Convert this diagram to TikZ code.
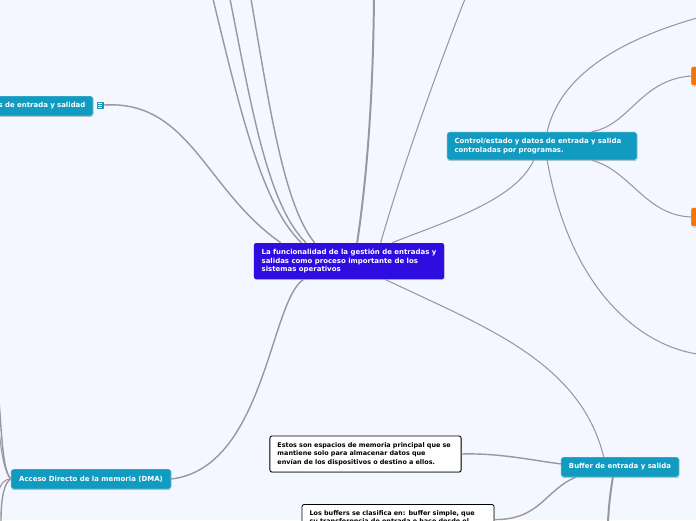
\documentclass[tikz,border=0pt]{standalone}
\usepackage{fontspec}
\setmainfont{DejaVu Sans}
\definecolor{mapback}{RGB}{244,247,255}
\definecolor{mapblue}{RGB}{47,13,224}
\definecolor{mapteal}{RGB}{17,155,192}
\definecolor{maporange}{RGB}{240,120,10}
\definecolor{maplink}{RGB}{152,152,158}
\usetikzlibrary{arrows.meta,positioning,calc,shadows}

\begin{document}
\begin{tikzpicture}[x=0.025cm,y=-0.025cm,
  topic/.style={rounded corners=1.5pt,font=\fontsize{4.95}{6.2}\selectfont\bfseries,align=left,
    text=white,inner xsep=0.19cm,inner ysep=0pt,
    drop shadow={shadow xshift=0.2pt,shadow yshift=-0.5pt,opacity=0.35,fill=black}},
  root/.style={topic,fill=mapblue},
  branch/.style={topic,fill=mapteal,draw=white,line width=0.3pt},
  leaf/.style={topic,fill=maporange,draw=white,line width=0.3pt},
  note/.style={topic,fill=white,draw=black,line width=0.6pt,text=black,font=\fontsize{4.58}{5.9}\selectfont\bfseries},
  icon/.style={fill=mapteal,draw=white,line width=0.2pt,minimum size=0.2cm,inner sep=0pt},
  link/.style={maplink,line width=1pt},
  thinlink/.style={maplink,line width=0.75pt}
]
  \clip (0,0) rectangle (696,520);
  \fill[mapback] (0,0) rectangle (696,520);
  % Central topic
  \node[root,minimum width=4.75cm,minimum height=0.9cm] (central) at (349,261)
    {La funcionalidad de la gestión de entradas y\\salidas como proceso importante de los\\sistemas operativos};
  % Topics around it
  \node[branch,text width=3.62cm,align=right,minimum height=0.5cm] (devices) at (13,106) {s de entrada y salidad};
  \node[icon] (devicesicon) at (100,105) {};
  \foreach \dy in {-1.5,0,1.5}
    \draw[white,line width=0.4pt] ([xshift=-0.05cm,yshift=\dy pt]devicesicon.center) -- ([xshift=0.05cm,yshift=\dy pt]devicesicon.center);
  \node[branch,text width=4.37cm,minimum height=0.7cm] (control) at (542,146)
    {Control/estado y datos de entrada y salida\\controladas por programas.};
  \node[branch,minimum width=2.95cm,minimum height=0.5cm] (buffer) at (620,467) {Buffer de entrada y salida};
  \node[branch,minimum width=4cm,minimum height=0.5cm] (dma) at (91,479) {Acceso Directo de la memoria (DMA)};
  \node[leaf,minimum width=1cm,minimum height=0.48cm] (leafA) at (711,76) {};
  \node[leaf,minimum width=1cm,minimum height=0.48cm] (leafB) at (711,217) {};
  % Notes under the buffer
  \node[note,text width=4.4cm,minimum height=0.9cm] (noteA) at (365.5,454)
    {Estos son espacios de memoria principal que se\\mantiene solo para almacenar datos que\\envían de los dispositivos o destino a ellos.};
  \node[note,text width=4.42cm,inner ysep=0.15cm,text depth=0.75cm] (noteB) at (398,528)
    {Los buffers se clasifica en: buffer simple, que\\su transferencia de entrada e hace desde el};
  % Free ends at the picture's edge
  \coordinate (endA) at (213,-1);
  \coordinate (endB) at (230,-1);
  \coordinate (endC) at (251,-1);
  \coordinate (endD) at (374,-1);
  \coordinate (endE) at (465,-1);
  \coordinate (endF) at (697,18);
  \coordinate (endG) at (697,354);
  \coordinate (endH) at (608,521);
  \coordinate (endI) at (-1,400);
  \coordinate (endJ) at (-1,430);
  \coordinate (endK) at (-1,490);
  \coordinate (endL) at (1,521);
  % Links of the central topic
  \draw[link] (central.159) .. controls (262,205) and (240,110) .. (endA);
  \draw[link] (central.157) .. controls (268,205) and (252,110) .. (endB);
  \draw[link] (central.152) .. controls (284,205) and (270,110) .. (endC);
  \draw[link,line width=1.4pt] (central.66) .. controls (368,170) and (373,90) .. (endD);
  \draw[thinlink] (central.30) .. controls (400,175) and (435,75) .. (endE);
  \draw[link] (central.165) .. controls (205,190) and (190,100) .. (devicesicon.east);
  \draw[thinlink] (central.23) .. controls (450,220) and (515,200) .. (control.240);
  \draw[link] (central.202) .. controls (270,300) and (265,468) .. (dma.east);
  \draw[thinlink] (central.-27) .. controls (480,325) and (580,360) .. (buffer.148);
  % Links of the control topic
  \draw[thinlink] (control.70) .. controls (560,75) and (620,40) .. (endF);
  \draw[thinlink] (control.16) .. controls (630,125) and (640,80) .. (leafA.west);
  \draw[thinlink] (control.-16) .. controls (630,170) and (645,215) .. (leafB.west);
  \draw[thinlink] (control.-70) .. controls (570,290) and (640,345) .. (endG);
  % Links of the buffer topic
  \draw[link] (buffer.177) .. controls (530,460) and (500,453) .. (noteA.east);
  \draw[link] (buffer.193) .. controls (545,490) and (540,520) .. (noteB.5);
  \draw[link,line width=1.4pt] (buffer.235) .. controls (610,495) and (609,505) .. (endH);
  % Links of the DMA topic
  \draw[link] (dma.west) .. controls (3,470) and (2,440) .. (endI);
  \draw[thinlink] (dma.west) .. controls (4,472) and (1,450) .. (endJ);
  \draw[thinlink] (dma.west) .. controls (5,479) and (1,483) .. (endK);
  \draw[link] (dma.west) .. controls (5,482) and (1,495) .. (endL);
\end{tikzpicture}
\end{document}
